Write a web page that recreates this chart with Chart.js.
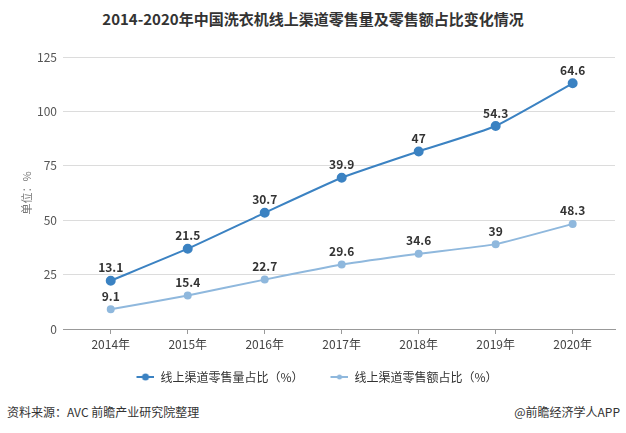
<!DOCTYPE html>
<html>
<head>
<meta charset="utf-8">
<script src="https://cdn.jsdelivr.net/npm/chart.js@4/dist/chart.umd.min.js"></script>
<style>
  body { margin: 0; background: #fff; font-family: "Noto Sans CJK SC", sans-serif; }
  #wrap { position: relative; width: 626px; height: 433px; }
  #title { position: absolute; top: 8px; left: 0; width: 626px; text-align: center;
           font-size: 15px; font-weight: bold; color: #333; }
  #box { position: absolute; left: 0; top: 40px; width: 626px; height: 355px; }
  .foot { position: absolute; top: 403px; font-size: 12px; color: #333; }
</style>
</head>
<body>
<div id="wrap">
  <div id="title">2014-2020年中国洗衣机线上渠道零售量及零售额占比变化情况</div>
  <div id="box"><canvas id="myChart"></canvas></div>
  <div class="foot" style="left:7px;">资料来源：AVC 前瞻产业研究院整理</div>
  <div class="foot" style="right:6px;">@前瞻经济学人APP</div>
</div>
<script>
// 年份
const years = ['2014年', '2015年', '2016年', '2017年', '2018年', '2019年', '2020年'];
// 线上渠道零售量占比（%）
const volumeShare = [13.1, 21.5, 30.7, 39.9, 47, 54.3, 64.6];
// 线上渠道零售额占比（%）
const valueShare = [9.1, 15.4, 22.7, 29.6, 34.6, 39, 48.3];
const yTicks = [0, 25, 50, 75, 100, 125];

const DARK = '#3b82c2';
const LIGHT = '#8fb8dd';

// 图例标记：线 + 圆点（左侧留白，用作图例间距）
function legendMarker(color, r) {
  const c = document.createElement('canvas');
  c.width = 35; c.height = 10;
  const ctx = c.getContext('2d');
  ctx.strokeStyle = color;
  ctx.lineWidth = 2;
  ctx.beginPath(); ctx.moveTo(17, 5); ctx.lineTo(35, 5); ctx.stroke();
  ctx.fillStyle = color;
  ctx.beginPath(); ctx.arc(26, 5, r, 0, Math.PI * 2); ctx.fill();
  return c;
}

// 数据标签（显示原始值）
const valueLabels = {
  id: 'valueLabels',
  afterDatasetsDraw(chart) {
    const ctx = chart.ctx;
    ctx.save();
    ctx.font = 'bold 12px "Noto Sans CJK SC", sans-serif';
    ctx.fillStyle = '#333';
    ctx.textAlign = 'center';
    ctx.textBaseline = 'bottom';
    chart.data.datasets.forEach((ds, i) => {
      chart.getDatasetMeta(i).data.forEach((pt, j) => {
        ctx.fillText(String(ds.raw[j]), pt.x, pt.y - 7);
      });
    });
    ctx.restore();
  }
};

new Chart(document.getElementById('myChart'), {
  type: 'line',
  data: {
    datasets: [
      {
        label: '线上渠道零售额占比（%）',
        raw: valueShare,
        data: valueShare.map((v, i) => ({ x: i, y: v })),
        borderColor: LIGHT,
        backgroundColor: LIGHT,
        borderWidth: 2,
        pointRadius: 3,
        tension: 0.15,
        marker: legendMarker(LIGHT, 2.5)
      },
      {
        label: '线上渠道零售量占比（%）',
        raw: volumeShare,
        data: volumeShare.map((v, i) => ({ x: i, y: v })),
        borderColor: DARK,
        backgroundColor: DARK,
        borderWidth: 2,
        pointRadius: 4,
        tension: 0.15,
        marker: legendMarker(DARK, 3.5)
      }
    ]
  },
  options: {
    responsive: true,
    maintainAspectRatio: false,
    animation: false,
    layout: { padding: { top: 17, right: 11, left: 20, bottom: 2 } },
    scales: {
      x: {
        type: 'linear',
        min: -0.62,
        max: 6.55,
        afterBuildTicks(axis) { axis.ticks = years.map((_, i) => ({ value: i })); },
        afterFit(axis) { axis.height = 32; },
        ticks: {
          callback: v => years[v],
          color: '#444',
          font: { size: 12, family: '"Noto Sans CJK SC", sans-serif' },
          padding: 3
        },
        grid: { display: true, drawOnChartArea: false, drawTicks: true, tickLength: 5, color: '#999' },
        border: { color: '#999' }
      },
      y: {
        stacked: true,
        min: 0,
        max: 125,
        afterBuildTicks(axis) { axis.ticks = yTicks.map(v => ({ value: v })); },
        afterFit(axis) { axis.width = 43; },
        ticks: {
          color: '#555',
          font: { size: 12, family: '"Noto Sans CJK SC", sans-serif' },
          padding: 6
        },
        grid: { color: '#dcdcdc', drawTicks: false },
        border: { display: false },
        title: {
          display: true,
          text: '单位：%',
          color: '#777',
          font: { size: 11, family: '"Noto Sans CJK SC", sans-serif' },
          padding: 0
        }
      }
    },
    plugins: {
      legend: {
        position: 'bottom',
        reverse: true,
        labels: {
          usePointStyle: true,
          pointStyleWidth: 35,
          color: '#333',
          font: { size: 12, family: '"Noto Sans CJK SC", sans-serif' },
          padding: 10,
          generateLabels(chart) {
            return chart.data.datasets.map((ds, i) => ({
              // 第二项末尾留白，使图例整体略向左
              text: i === 0 ? ds.label + '\u2002\u2002\u2002' : ds.label,
              pointStyle: ds.marker,
              fontColor: '#333',
              datasetIndex: i,
              hidden: false
            }));
          }
        }
      },
      tooltip: { enabled: false }
    }
  },
  plugins: [valueLabels]
});
</script>
</body>
</html>
